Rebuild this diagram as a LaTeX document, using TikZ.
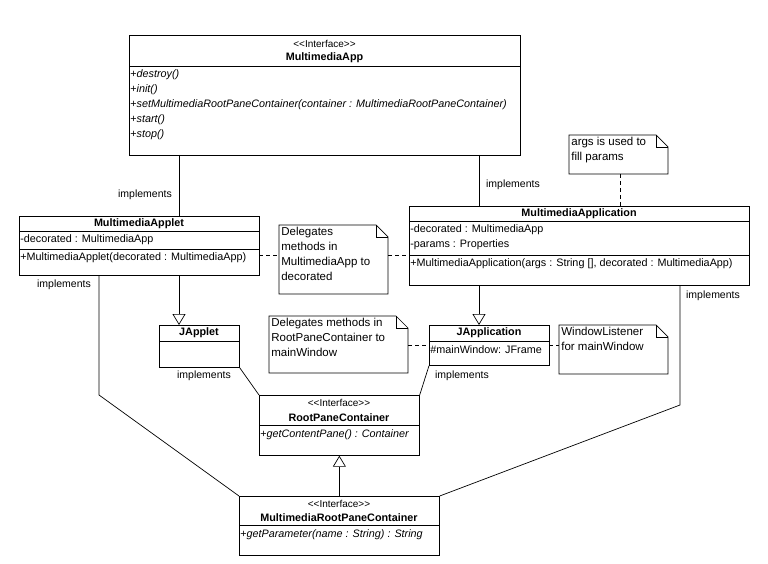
\documentclass[tikz,border=0pt]{standalone}
\usepackage{fontspec}
\setmainfont{Liberation Sans}
\usetikzlibrary{arrows.meta, positioning, calc}
\tikzset{
	box/.style={draw, anchor=north west, inner sep=0pt},
	txt/.style={anchor=west, inner sep=1pt, font=\fontsize{10.8}{12}\selectfont},
	ttl/.style={inner sep=0pt, font=\fontsize{10.8}{12}\selectfont\bfseries},
	stereo/.style={inner sep=0pt, font=\fontsize{10}{12}\selectfont},
	lbl/.style={inner sep=0pt, font=\fontsize{10.5}{12}\selectfont},
	notetxt/.style={anchor=north west, align=left, inner sep=2pt, font=\fontsize{11.5}{15}\selectfont},
	gen/.style={-{Triangle[open, length=11pt, width=13pt]}},
	dep/.style={dash pattern=on 4pt off 3pt}
}
\newcommand{\umlbox}[5]{% name, x, y, w, h
	\node[box, minimum width=#4pt, minimum height=#5pt] (#1) at (#2,#3) {};}
\newcommand{\notebox}[5]{% name, x, y, w, h
	\coordinate (#1-nw) at (#2,#3);
	\coordinate (#1-se) at ($(#2,#3)+(#4,#5)$);
	\draw (#2,#3) -- ++(#4-12,0) -- ++(12,12) -- ++(0,#5-12) -- ++(-#4,0) -- cycle;
	\draw ($(#2,#3)+(#4-12,0)$) -- ++(0,12) -- ++(12,0);}
\newcommand{\stereotype}{{<}{<}Interface{>}{>}}
\begin{document}
\begin{tikzpicture}[x=1pt, y=-1pt, line width=0.7pt]
	\useasboundingbox (0,0) rectangle (768,564);
	
	% MultimediaApp
	\umlbox{app}{129}{35}{391}{120}
	\node[stereo] at (324.5,44) {\stereotype};
	\node[ttl] (app_title) at (324.5,58) {MultimediaApp};
	\draw (129,66) -- (520,66);
	\foreach \op [count=\i] in {destroy(), init(), setMultimediaRootPaneContainer(container : MultimediaRootPaneContainer), start(), stop()}
		\node[txt] at (129,60+15*\i) {+\textit{\op}};
	
	% MultimediaApplet
	\umlbox{applet}{19}{216}{240}{59}
	\node[ttl] at (139,224) {MultimediaApplet};
	\draw (19,231) -- (259,231);
	\node[txt] at (19,240) {-decorated : MultimediaApp};
	\draw (19,249) -- (259,249);
	\node[txt] at (19,258) {+MultimediaApplet(decorated : MultimediaApp)};
	
	% MultimediaApplication
	\umlbox{application}{409}{206}{340}{79}
	\node[ttl] at (579,214) {MultimediaApplication};
	\draw (409,221) -- (749,221);
	\node[txt] at (409,230) {-decorated : MultimediaApp};
	\node[txt] at (409,245) {-params : Properties};
	\draw (409,255) -- (749,255);
	\node[txt] at (409,264) {+MultimediaApplication(args : String [], decorated : MultimediaApp)};
	
	% JApplet and JApplication
	\umlbox{japplet}{159}{325}{80}{42}
	\node[ttl] at (199,333) {JApplet};
	\draw (159,341) -- (239,341);
	\umlbox{japplication}{429}{325}{120}{40}
	\node[ttl] at (489,333) {JApplication};
	\draw (429,341) -- (549,341);
	\node[txt] at (429,350) {\#mainWindow: JFrame};
	
	% RootPaneContainer
	\umlbox{rpc}{259}{395}{160}{60}
	\node[stereo] at (339,403) {\stereotype};
	\node[ttl] at (339,418) {RootPaneContainer};
	\draw (259,425) -- (419,425);
	\node[txt] at (259,435) {+\textit{getContentPane() : Container}};
	
	% MultimediaRootPaneContainer
	\umlbox{mrpc}{239}{496}{200}{59}
	\node[stereo] at (339,504) {\stereotype};
	\node[ttl] at (339,518) {MultimediaRootPaneContainer};
	\draw (239,525) -- (439,525);
	\node[txt] at (239,535) {+\textit{getParameter(name : String) : String}};
	
	% notes
	\notebox{note_args}{569}{135}{99}{39}
	\node[notetxt] at (note_args-nw) {args is used to\\fill params};
	\notebox{note_applet}{279}{225}{109}{69}
	\node[notetxt] at (note_applet-nw) {Delegates\\methods in\\MultimediaApp to\\decorated};
	\notebox{note_rpc}{269}{316}{139}{57}
	\node[notetxt] at (note_rpc-nw) {Delegates methods in\\RootPaneContainer to\\mainWindow};
	\notebox{note_window}{559}{325}{109}{49}
	\node[notetxt] at (note_window-nw) {WindowListener\\for mainWindow};
	
	% realizations
	\draw (179,155) -- (179,216);
	\node[lbl] at (145,195) {implements};
	\draw (479,155) -- (479,206);
	\node[lbl] at (513,185) {implements};
	\draw (99,275) -- (99,395) -- (mrpc.north west);
	\node[lbl] at (64,285) {implements};
	\draw (680,285) -- (680,405) -- (mrpc.north east);
	\node[lbl] at (713,296) {implements};
	\draw (japplet.south east) -- (rpc.north west);
	\node[lbl] at (204,376) {implements};
	\draw (japplication.south west) -- (rpc.north east);
	\node[lbl] at (462,376) {implements};
	
	% generalizations
	\draw[gen] (179,275) -- (179,325);
	\draw[gen] (479,285) -- (479,325);
	\draw[gen] (mrpc.north) -- (rpc.south);
	
	% note links
	\draw[dep] (259,255) -- (279,255);
	\draw[dep] (388,255) -- (409,255);
	\draw[dep] (620,174) -- (620,206);
	\draw[dep] (408,345) -- (429,345);
	\draw[dep] (549,345) -- (559,345);
\end{tikzpicture}
\end{document}
